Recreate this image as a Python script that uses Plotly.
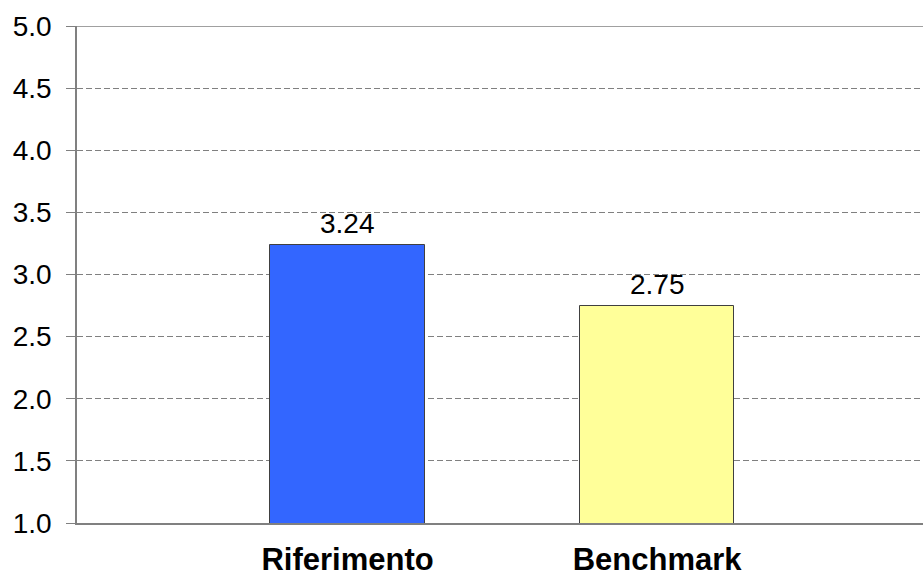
import plotly.graph_objects as go

# Chart data
categories = ["Riferimento", "Benchmark"]
values = [3.24, 2.75]
bar_colors = ["#3366FF", "#FFFF99"]
y_ticks = [1.0, 1.5, 2.0, 2.5, 3.0, 3.5, 4.0, 4.5, 5.0]

FONT = "Liberation Sans, Arial"

fig = go.Figure()

fig.add_trace(go.Bar(
    x=[0, 1],
    y=values,
    width=0.5,
    marker=dict(color=bar_colors, line=dict(color="#404040", width=1)),
    hoverinfo="skip",
))

# Value labels above each bar
for i, v in enumerate(values):
    fig.add_annotation(
        x=i, y=v, xref="x", yref="y",
        text=f"{v:.2f}",
        showarrow=False,
        yanchor="bottom",
        yshift=4,
        font=dict(family=FONT, size=28, color="#000000"),
    )

fig.update_layout(
    width=923,
    height=577,
    margin=dict(l=77, r=0, t=26, b=54),
    paper_bgcolor="white",
    plot_bgcolor="white",
    showlegend=False,
    font=dict(family=FONT, color="#000000"),
    bargap=0,
)

fig.update_xaxes(
    range=[-0.874, 1.859],
    tickmode="array",
    tickvals=[0, 1],
    ticktext=categories,
    tickfont=dict(family=FONT, size=31, color="#000000", weight="bold"),
    ticks="",
    ticklabelstandoff=8,
    automargin=False,
    showgrid=False,
    showline=True,
    linecolor="#808080",
    linewidth=1.5,
    zeroline=False,
    mirror=False,
)

fig.update_yaxes(
    range=[1.0, 5.0],
    tickmode="array",
    tickvals=y_ticks,
    ticktext=[f"{t:.1f}" for t in y_ticks],
    tickfont=dict(family=FONT, size=28, color="#000000"),
    ticks="outside",
    ticklen=9,
    tickcolor="#808080",
    ticklabelstandoff=9,
    automargin=False,
    showgrid=True,
    gridcolor="#808080",
    gridwidth=1,
    griddash="6px,3px",
    showline=True,
    linecolor="#808080",
    linewidth=1.5,
    zeroline=False,
)

# Solid border along the top of the plotting area
fig.add_shape(type="line", xref="paper", yref="y", x0=0, x1=1, y0=5.0, y1=5.0,
              line=dict(color="#808080", width=1.5))

fig.write_html("out.html")
